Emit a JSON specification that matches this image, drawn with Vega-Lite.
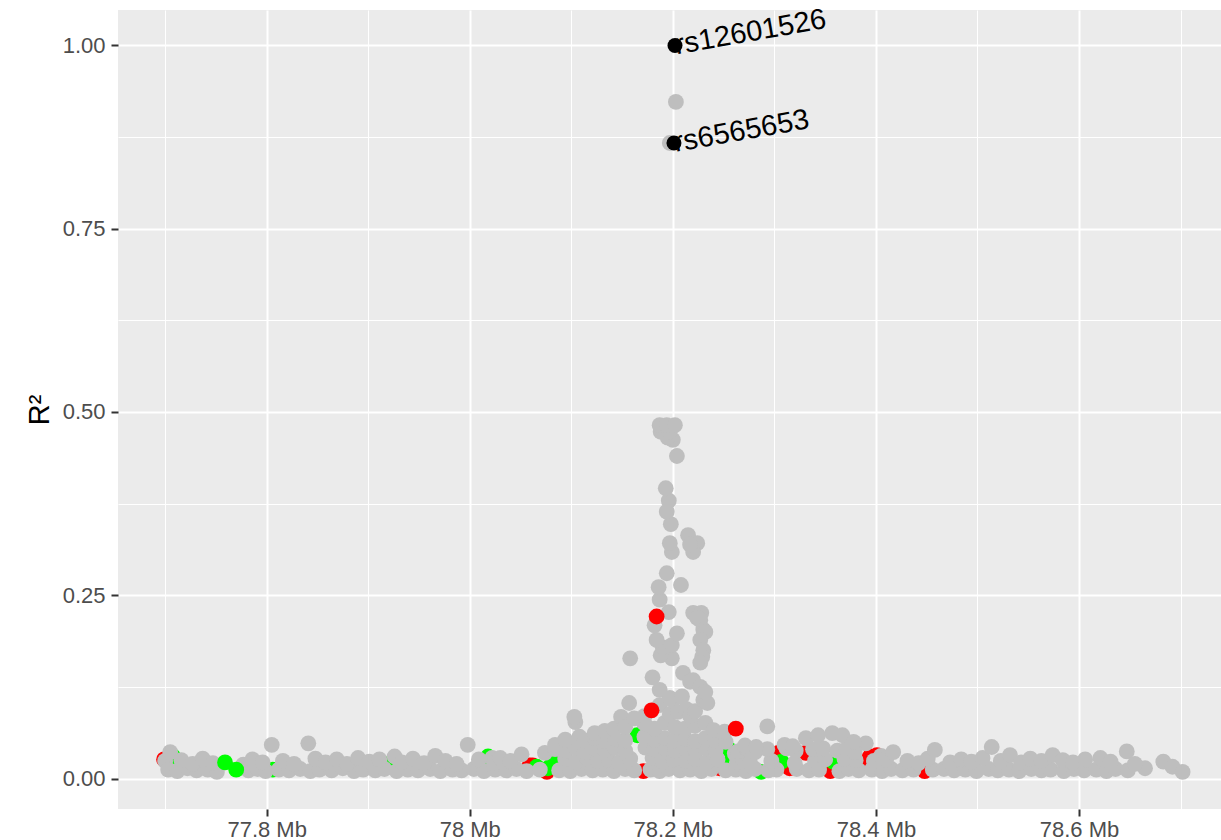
{
  "$schema": "https://vega.github.io/schema/vega-lite/v6.json",
  "width": 1103,
  "height": 799,
  "autosize": {"type": "none"},
  "padding": {"left": 118, "top": 10, "right": 0, "bottom": 31},
  "background": "white",
  "config": {
    "view": {"fill": "#EBEBEB", "stroke": null},
    "font": "Liberation Sans"
  },
  "data": {
    "values": [
      {"pos": 77.699, "r2": 0.026, "cat": "A"},
      {"pos": 78.059, "r2": 0.018, "cat": "A"},
      {"pos": 78.062, "r2": 0.018, "cat": "A"},
      {"pos": 78.076, "r2": 0.009, "cat": "A"},
      {"pos": 78.086, "r2": 0.025, "cat": "A"},
      {"pos": 78.171, "r2": 0.010, "cat": "A"},
      {"pos": 78.246, "r2": 0.014, "cat": "A"},
      {"pos": 78.304, "r2": 0.035, "cat": "A"},
      {"pos": 78.309, "r2": 0.018, "cat": "A"},
      {"pos": 78.315, "r2": 0.014, "cat": "A"},
      {"pos": 78.331, "r2": 0.035, "cat": "A"},
      {"pos": 78.355, "r2": 0.010, "cat": "A"},
      {"pos": 78.389, "r2": 0.021, "cat": "A"},
      {"pos": 78.394, "r2": 0.030, "cat": "A"},
      {"pos": 78.401, "r2": 0.032, "cat": "A"},
      {"pos": 78.448, "r2": 0.010, "cat": "A"},
      {"pos": 77.708, "r2": 0.030, "cat": "B"},
      {"pos": 77.806, "r2": 0.012, "cat": "B"},
      {"pos": 77.922, "r2": 0.021, "cat": "B"},
      {"pos": 78.018, "r2": 0.030, "cat": "B"},
      {"pos": 78.066, "r2": 0.016, "cat": "B"},
      {"pos": 78.077, "r2": 0.014, "cat": "B"},
      {"pos": 78.082, "r2": 0.025, "cat": "B"},
      {"pos": 78.165, "r2": 0.059, "cat": "B"},
      {"pos": 78.256, "r2": 0.039, "cat": "B"},
      {"pos": 78.258, "r2": 0.025, "cat": "B"},
      {"pos": 78.287, "r2": 0.009, "cat": "B"},
      {"pos": 78.307, "r2": 0.023, "cat": "B"},
      {"pos": 78.358, "r2": 0.023, "cat": "B"},

      {"pos": 77.700, "r2": 0.024, "cat": "other"},
      {"pos": 77.703, "r2": 0.012, "cat": "other"},
      {"pos": 77.712, "r2": 0.010, "cat": "other"},
      {"pos": 77.722, "r2": 0.014, "cat": "other"},
      {"pos": 77.731, "r2": 0.011, "cat": "other"},
      {"pos": 77.742, "r2": 0.012, "cat": "other"},
      {"pos": 77.751, "r2": 0.009, "cat": "other"},
      {"pos": 77.782, "r2": 0.011, "cat": "other"},
      {"pos": 77.791, "r2": 0.013, "cat": "other"},
      {"pos": 77.799, "r2": 0.010, "cat": "other"},
      {"pos": 77.812, "r2": 0.012, "cat": "other"},
      {"pos": 77.822, "r2": 0.011, "cat": "other"},
      {"pos": 77.833, "r2": 0.013, "cat": "other"},
      {"pos": 77.843, "r2": 0.010, "cat": "other"},
      {"pos": 77.852, "r2": 0.012, "cat": "other"},
      {"pos": 77.864, "r2": 0.011, "cat": "other"},
      {"pos": 77.875, "r2": 0.014, "cat": "other"},
      {"pos": 77.886, "r2": 0.010, "cat": "other"},
      {"pos": 77.895, "r2": 0.012, "cat": "other"},
      {"pos": 77.907, "r2": 0.011, "cat": "other"},
      {"pos": 77.916, "r2": 0.013, "cat": "other"},
      {"pos": 77.928, "r2": 0.010, "cat": "other"},
      {"pos": 77.939, "r2": 0.012, "cat": "other"},
      {"pos": 77.949, "r2": 0.011, "cat": "other"},
      {"pos": 77.961, "r2": 0.013, "cat": "other"},
      {"pos": 77.971, "r2": 0.010, "cat": "other"},
      {"pos": 77.983, "r2": 0.012, "cat": "other"},
      {"pos": 77.992, "r2": 0.011, "cat": "other"},
      {"pos": 78.004, "r2": 0.013, "cat": "other"},
      {"pos": 78.014, "r2": 0.010, "cat": "other"},
      {"pos": 78.025, "r2": 0.012, "cat": "other"},
      {"pos": 78.036, "r2": 0.011, "cat": "other"},
      {"pos": 78.046, "r2": 0.013, "cat": "other"},
      {"pos": 78.056, "r2": 0.010, "cat": "other"},
      {"pos": 78.069, "r2": 0.012, "cat": "other"},
      {"pos": 78.088, "r2": 0.011, "cat": "other"},
      {"pos": 78.099, "r2": 0.010, "cat": "other"},
      {"pos": 78.110, "r2": 0.013, "cat": "other"},
      {"pos": 78.121, "r2": 0.011, "cat": "other"},
      {"pos": 78.131, "r2": 0.012, "cat": "other"},
      {"pos": 78.142, "r2": 0.010, "cat": "other"},
      {"pos": 78.153, "r2": 0.013, "cat": "other"},
      {"pos": 78.162, "r2": 0.011, "cat": "other"},
      {"pos": 78.178, "r2": 0.012, "cat": "other"},
      {"pos": 78.187, "r2": 0.010, "cat": "other"},
      {"pos": 78.196, "r2": 0.013, "cat": "other"},
      {"pos": 78.207, "r2": 0.011, "cat": "other"},
      {"pos": 78.217, "r2": 0.012, "cat": "other"},
      {"pos": 78.228, "r2": 0.010, "cat": "other"},
      {"pos": 78.238, "r2": 0.013, "cat": "other"},
      {"pos": 78.252, "r2": 0.011, "cat": "other"},
      {"pos": 78.262, "r2": 0.012, "cat": "other"},
      {"pos": 78.272, "r2": 0.010, "cat": "other"},
      {"pos": 78.281, "r2": 0.013, "cat": "other"},
      {"pos": 78.294, "r2": 0.011, "cat": "other"},
      {"pos": 78.302, "r2": 0.012, "cat": "other"},
      {"pos": 78.322, "r2": 0.013, "cat": "other"},
      {"pos": 78.334, "r2": 0.011, "cat": "other"},
      {"pos": 78.344, "r2": 0.012, "cat": "other"},
      {"pos": 78.364, "r2": 0.010, "cat": "other"},
      {"pos": 78.373, "r2": 0.013, "cat": "other"},
      {"pos": 78.383, "r2": 0.011, "cat": "other"},
      {"pos": 78.396, "r2": 0.012, "cat": "other"},
      {"pos": 78.406, "r2": 0.010, "cat": "other"},
      {"pos": 78.415, "r2": 0.013, "cat": "other"},
      {"pos": 78.426, "r2": 0.011, "cat": "other"},
      {"pos": 78.437, "r2": 0.012, "cat": "other"},
      {"pos": 78.456, "r2": 0.012, "cat": "other"},
      {"pos": 78.467, "r2": 0.013, "cat": "other"},
      {"pos": 78.477, "r2": 0.011, "cat": "other"},
      {"pos": 78.488, "r2": 0.012, "cat": "other"},
      {"pos": 78.499, "r2": 0.010, "cat": "other"},
      {"pos": 78.511, "r2": 0.013, "cat": "other"},
      {"pos": 78.520, "r2": 0.011, "cat": "other"},
      {"pos": 78.531, "r2": 0.012, "cat": "other"},
      {"pos": 78.541, "r2": 0.010, "cat": "other"},
      {"pos": 78.553, "r2": 0.013, "cat": "other"},
      {"pos": 78.563, "r2": 0.011, "cat": "other"},
      {"pos": 78.572, "r2": 0.012, "cat": "other"},
      {"pos": 78.585, "r2": 0.010, "cat": "other"},
      {"pos": 78.595, "r2": 0.013, "cat": "other"},
      {"pos": 78.605, "r2": 0.011, "cat": "other"},
      {"pos": 78.617, "r2": 0.012, "cat": "other"},
      {"pos": 78.627, "r2": 0.010, "cat": "other"},
      {"pos": 78.636, "r2": 0.013, "cat": "other"},
      {"pos": 78.648, "r2": 0.011, "cat": "other"},
      {"pos": 78.665, "r2": 0.014, "cat": "other"},
      {"pos": 78.683, "r2": 0.023, "cat": "other"},
      {"pos": 78.692, "r2": 0.016, "cat": "other"},
      {"pos": 78.702, "r2": 0.009, "cat": "other"},

      {"pos": 77.705, "r2": 0.036, "cat": "other"},
      {"pos": 77.716, "r2": 0.025, "cat": "other"},
      {"pos": 77.727, "r2": 0.020, "cat": "other"},
      {"pos": 77.737, "r2": 0.027, "cat": "other"},
      {"pos": 77.747, "r2": 0.021, "cat": "other"},
      {"pos": 77.777, "r2": 0.019, "cat": "other"},
      {"pos": 77.786, "r2": 0.026, "cat": "other"},
      {"pos": 77.796, "r2": 0.022, "cat": "other"},
      {"pos": 77.805, "r2": 0.046, "cat": "other"},
      {"pos": 77.816, "r2": 0.024, "cat": "other"},
      {"pos": 77.827, "r2": 0.020, "cat": "other"},
      {"pos": 77.841, "r2": 0.048, "cat": "other"},
      {"pos": 77.848, "r2": 0.027, "cat": "other"},
      {"pos": 77.858, "r2": 0.022, "cat": "other"},
      {"pos": 77.869, "r2": 0.026, "cat": "other"},
      {"pos": 77.879, "r2": 0.020, "cat": "other"},
      {"pos": 77.890, "r2": 0.028, "cat": "other"},
      {"pos": 77.901, "r2": 0.023, "cat": "other"},
      {"pos": 77.911, "r2": 0.026, "cat": "other"},
      {"pos": 77.926, "r2": 0.030, "cat": "other"},
      {"pos": 77.933, "r2": 0.022, "cat": "other"},
      {"pos": 77.944, "r2": 0.027, "cat": "other"},
      {"pos": 77.955, "r2": 0.021, "cat": "other"},
      {"pos": 77.966, "r2": 0.031, "cat": "other"},
      {"pos": 77.976, "r2": 0.024, "cat": "other"},
      {"pos": 77.987, "r2": 0.020, "cat": "other"},
      {"pos": 77.998, "r2": 0.046, "cat": "other"},
      {"pos": 78.009, "r2": 0.026, "cat": "other"},
      {"pos": 78.022, "r2": 0.028, "cat": "other"},
      {"pos": 78.024, "r2": 0.021, "cat": "other"},
      {"pos": 78.030, "r2": 0.028, "cat": "other"},
      {"pos": 78.040, "r2": 0.024, "cat": "other"},
      {"pos": 78.051, "r2": 0.033, "cat": "other"},
      {"pos": 78.094, "r2": 0.027, "cat": "other"},
      {"pos": 78.104, "r2": 0.022, "cat": "other"},
      {"pos": 78.115, "r2": 0.028, "cat": "other"},
      {"pos": 78.126, "r2": 0.024, "cat": "other"},
      {"pos": 78.137, "r2": 0.026, "cat": "other"},
      {"pos": 78.147, "r2": 0.022, "cat": "other"},
      {"pos": 78.158, "r2": 0.027, "cat": "other"},
      {"pos": 78.180, "r2": 0.028, "cat": "other"},
      {"pos": 78.190, "r2": 0.023, "cat": "other"},
      {"pos": 78.201, "r2": 0.026, "cat": "other"},
      {"pos": 78.212, "r2": 0.024, "cat": "other"},
      {"pos": 78.222, "r2": 0.027, "cat": "other"},
      {"pos": 78.233, "r2": 0.022, "cat": "other"},
      {"pos": 78.244, "r2": 0.026, "cat": "other"},
      {"pos": 78.261, "r2": 0.034, "cat": "other"},
      {"pos": 78.263, "r2": 0.022, "cat": "other"},
      {"pos": 78.268, "r2": 0.028, "cat": "other"},
      {"pos": 78.276, "r2": 0.022, "cat": "other"},
      {"pos": 78.297, "r2": 0.024, "cat": "other"},
      {"pos": 78.320, "r2": 0.021, "cat": "other"},
      {"pos": 78.340, "r2": 0.024, "cat": "other"},
      {"pos": 78.350, "r2": 0.026, "cat": "other"},
      {"pos": 78.369, "r2": 0.027, "cat": "other"},
      {"pos": 78.380, "r2": 0.025, "cat": "other"},
      {"pos": 78.390, "r2": 0.048, "cat": "other"},
      {"pos": 78.398, "r2": 0.024, "cat": "other"},
      {"pos": 78.405, "r2": 0.031, "cat": "other"},
      {"pos": 78.410, "r2": 0.026, "cat": "other"},
      {"pos": 78.417, "r2": 0.036, "cat": "other"},
      {"pos": 78.431, "r2": 0.024, "cat": "other"},
      {"pos": 78.442, "r2": 0.021, "cat": "other"},
      {"pos": 78.451, "r2": 0.027, "cat": "other"},
      {"pos": 78.458, "r2": 0.039, "cat": "other"},
      {"pos": 78.473, "r2": 0.022, "cat": "other"},
      {"pos": 78.484, "r2": 0.026, "cat": "other"},
      {"pos": 78.494, "r2": 0.023, "cat": "other"},
      {"pos": 78.505, "r2": 0.028, "cat": "other"},
      {"pos": 78.514, "r2": 0.043, "cat": "other"},
      {"pos": 78.523, "r2": 0.024, "cat": "other"},
      {"pos": 78.532, "r2": 0.032, "cat": "other"},
      {"pos": 78.543, "r2": 0.022, "cat": "other"},
      {"pos": 78.552, "r2": 0.027, "cat": "other"},
      {"pos": 78.563, "r2": 0.024, "cat": "other"},
      {"pos": 78.574, "r2": 0.032, "cat": "other"},
      {"pos": 78.584, "r2": 0.025, "cat": "other"},
      {"pos": 78.594, "r2": 0.022, "cat": "other"},
      {"pos": 78.606, "r2": 0.026, "cat": "other"},
      {"pos": 78.621, "r2": 0.028, "cat": "other"},
      {"pos": 78.631, "r2": 0.023, "cat": "other"},
      {"pos": 78.647, "r2": 0.037, "cat": "other"},
      {"pos": 78.655, "r2": 0.020, "cat": "other"},

      {"pos": 78.074, "r2": 0.035, "cat": "other"},
      {"pos": 78.084, "r2": 0.040, "cat": "other"},
      {"pos": 78.094, "r2": 0.038, "cat": "other"},
      {"pos": 78.104, "r2": 0.042, "cat": "other"},
      {"pos": 78.113, "r2": 0.037, "cat": "other"},
      {"pos": 78.123, "r2": 0.041, "cat": "other"},
      {"pos": 78.133, "r2": 0.039, "cat": "other"},
      {"pos": 78.143, "r2": 0.042, "cat": "other"},
      {"pos": 78.153, "r2": 0.038, "cat": "other"},
      {"pos": 78.173, "r2": 0.042, "cat": "other"},
      {"pos": 78.182, "r2": 0.039, "cat": "other"},
      {"pos": 78.192, "r2": 0.041, "cat": "other"},
      {"pos": 78.202, "r2": 0.038, "cat": "other"},
      {"pos": 78.212, "r2": 0.042, "cat": "other"},
      {"pos": 78.222, "r2": 0.039, "cat": "other"},
      {"pos": 78.232, "r2": 0.041, "cat": "other"},
      {"pos": 78.242, "r2": 0.038, "cat": "other"},
      {"pos": 78.264, "r2": 0.037, "cat": "other"},
      {"pos": 78.273, "r2": 0.040, "cat": "other"},
      {"pos": 78.281, "r2": 0.036, "cat": "other"},
      {"pos": 78.293, "r2": 0.040, "cat": "other"},
      {"pos": 78.312, "r2": 0.041, "cat": "other"},
      {"pos": 78.321, "r2": 0.038, "cat": "other"},
      {"pos": 78.338, "r2": 0.040, "cat": "other"},
      {"pos": 78.348, "r2": 0.041, "cat": "other"},
      {"pos": 78.362, "r2": 0.038, "cat": "other"},
      {"pos": 78.371, "r2": 0.040, "cat": "other"},
      {"pos": 78.379, "r2": 0.036, "cat": "other"},

      {"pos": 78.084, "r2": 0.046, "cat": "other"},
      {"pos": 78.094, "r2": 0.053, "cat": "other"},
      {"pos": 78.108, "r2": 0.057, "cat": "other"},
      {"pos": 78.113, "r2": 0.052, "cat": "other"},
      {"pos": 78.123, "r2": 0.055, "cat": "other"},
      {"pos": 78.133, "r2": 0.051, "cat": "other"},
      {"pos": 78.143, "r2": 0.054, "cat": "other"},
      {"pos": 78.153, "r2": 0.052, "cat": "other"},
      {"pos": 78.172, "r2": 0.057, "cat": "other"},
      {"pos": 78.182, "r2": 0.053, "cat": "other"},
      {"pos": 78.192, "r2": 0.055, "cat": "other"},
      {"pos": 78.202, "r2": 0.052, "cat": "other"},
      {"pos": 78.212, "r2": 0.054, "cat": "other"},
      {"pos": 78.222, "r2": 0.051, "cat": "other"},
      {"pos": 78.232, "r2": 0.055, "cat": "other"},
      {"pos": 78.242, "r2": 0.052, "cat": "other"},
      {"pos": 78.252, "r2": 0.050, "cat": "other"},
      {"pos": 78.271, "r2": 0.045, "cat": "other"},
      {"pos": 78.282, "r2": 0.043, "cat": "other"},
      {"pos": 78.310, "r2": 0.046, "cat": "other"},
      {"pos": 78.318, "r2": 0.044, "cat": "other"},
      {"pos": 78.331, "r2": 0.055, "cat": "other"},
      {"pos": 78.343, "r2": 0.059, "cat": "other"},
      {"pos": 78.357, "r2": 0.062, "cat": "other"},
      {"pos": 78.367, "r2": 0.059, "cat": "other"},
      {"pos": 78.378, "r2": 0.050, "cat": "other"},

      {"pos": 78.104, "r2": 0.077, "cat": "other"},
      {"pos": 78.103, "r2": 0.084, "cat": "other"},
      {"pos": 78.123, "r2": 0.062, "cat": "other"},
      {"pos": 78.133, "r2": 0.065, "cat": "other"},
      {"pos": 78.142, "r2": 0.068, "cat": "other"},
      {"pos": 78.149, "r2": 0.084, "cat": "other"},
      {"pos": 78.153, "r2": 0.070, "cat": "other"},
      {"pos": 78.157, "r2": 0.103, "cat": "other"},
      {"pos": 78.172, "r2": 0.075, "cat": "other"},
      {"pos": 78.182, "r2": 0.068, "cat": "other"},
      {"pos": 78.192, "r2": 0.076, "cat": "other"},
      {"pos": 78.202, "r2": 0.070, "cat": "other"},
      {"pos": 78.212, "r2": 0.068, "cat": "other"},
      {"pos": 78.222, "r2": 0.072, "cat": "other"},
      {"pos": 78.232, "r2": 0.076, "cat": "other"},
      {"pos": 78.240, "r2": 0.066, "cat": "other"},
      {"pos": 78.251, "r2": 0.064, "cat": "other"},
      {"pos": 78.293, "r2": 0.071, "cat": "other"},

      {"pos": 78.162, "r2": 0.082, "cat": "other"},
      {"pos": 78.172, "r2": 0.085, "cat": "other"},
      {"pos": 78.187, "r2": 0.100, "cat": "other"},
      {"pos": 78.197, "r2": 0.088, "cat": "other"},
      {"pos": 78.200, "r2": 0.107, "cat": "other"},
      {"pos": 78.205, "r2": 0.091, "cat": "other"},
      {"pos": 78.213, "r2": 0.095, "cat": "other"},
      {"pos": 78.217, "r2": 0.085, "cat": "other"},
      {"pos": 78.222, "r2": 0.092, "cat": "other"},
      {"pos": 78.230, "r2": 0.107, "cat": "other"},
      {"pos": 78.234, "r2": 0.103, "cat": "other"},

      {"pos": 78.158, "r2": 0.164, "cat": "other"},
      {"pos": 78.180, "r2": 0.138, "cat": "other"},
      {"pos": 78.187, "r2": 0.121, "cat": "other"},
      {"pos": 78.197, "r2": 0.110, "cat": "other"},
      {"pos": 78.209, "r2": 0.112, "cat": "other"},
      {"pos": 78.210, "r2": 0.144, "cat": "other"},
      {"pos": 78.217, "r2": 0.132, "cat": "other"},
      {"pos": 78.220, "r2": 0.134, "cat": "other"},
      {"pos": 78.227, "r2": 0.125, "cat": "other"},
      {"pos": 78.232, "r2": 0.118, "cat": "other"},
      {"pos": 78.199, "r2": 0.164, "cat": "other"},
      {"pos": 78.188, "r2": 0.168, "cat": "other"},
      {"pos": 78.190, "r2": 0.179, "cat": "other"},
      {"pos": 78.184, "r2": 0.189, "cat": "other"},
      {"pos": 78.199, "r2": 0.182, "cat": "other"},
      {"pos": 78.204, "r2": 0.198, "cat": "other"},
      {"pos": 78.182, "r2": 0.209, "cat": "other"},
      {"pos": 78.196, "r2": 0.227, "cat": "other"},
      {"pos": 78.187, "r2": 0.244, "cat": "other"},
      {"pos": 78.186, "r2": 0.261, "cat": "other"},
      {"pos": 78.208, "r2": 0.264, "cat": "other"},
      {"pos": 78.194, "r2": 0.280, "cat": "other"},
      {"pos": 78.199, "r2": 0.309, "cat": "other"},
      {"pos": 78.197, "r2": 0.321, "cat": "other"},
      {"pos": 78.215, "r2": 0.332, "cat": "other"},
      {"pos": 78.224, "r2": 0.321, "cat": "other"},
      {"pos": 78.220, "r2": 0.309, "cat": "other"},
      {"pos": 78.217, "r2": 0.319, "cat": "other"},
      {"pos": 78.198, "r2": 0.347, "cat": "other"},
      {"pos": 78.194, "r2": 0.364, "cat": "other"},
      {"pos": 78.196, "r2": 0.379, "cat": "other"},
      {"pos": 78.193, "r2": 0.396, "cat": "other"},
      {"pos": 78.204, "r2": 0.440, "cat": "other"},
      {"pos": 78.200, "r2": 0.462, "cat": "other"},
      {"pos": 78.195, "r2": 0.465, "cat": "other"},
      {"pos": 78.188, "r2": 0.473, "cat": "other"},
      {"pos": 78.197, "r2": 0.473, "cat": "other"},
      {"pos": 78.187, "r2": 0.482, "cat": "other"},
      {"pos": 78.194, "r2": 0.482, "cat": "other"},
      {"pos": 78.202, "r2": 0.482, "cat": "other"},
      {"pos": 78.220, "r2": 0.226, "cat": "other"},
      {"pos": 78.228, "r2": 0.226, "cat": "other"},
      {"pos": 78.224, "r2": 0.219, "cat": "other"},
      {"pos": 78.227, "r2": 0.216, "cat": "other"},
      {"pos": 78.230, "r2": 0.203, "cat": "other"},
      {"pos": 78.232, "r2": 0.200, "cat": "other"},
      {"pos": 78.227, "r2": 0.189, "cat": "other"},
      {"pos": 78.230, "r2": 0.175, "cat": "other"},
      {"pos": 78.229, "r2": 0.166, "cat": "other"},
      {"pos": 78.227, "r2": 0.158, "cat": "other"},
      {"pos": 78.203, "r2": 0.923, "cat": "other"},
      {"pos": 78.197, "r2": 0.867, "cat": "other"},

      {"pos": 77.759, "r2": 0.022, "cat": "B"},
      {"pos": 77.770, "r2": 0.012, "cat": "B"},
      {"pos": 78.184, "r2": 0.221, "cat": "A"},
      {"pos": 78.179, "r2": 0.093, "cat": "A"},
      {"pos": 78.262, "r2": 0.068, "cat": "A"},

      {"pos": 78.2021, "r2": 1.0, "cat": "lead", "snp": "rs12601526"},
      {"pos": 78.2011, "r2": 0.867, "cat": "lead", "snp": "rs6565653"}
    ]
  },
  "resolve": {"axis": {"x": "independent", "y": "independent"}},
  "layer": [
    {
      "description": "minor grid lines",
      "transform": [{"filter": "datum.cat == 'lead'"}],
      "mark": {"type": "circle", "opacity": 0},
      "encoding": {
        "x": {
          "field": "pos", "type": "quantitative",
          "scale": {"domain": [77.6536, 78.7398], "nice": false, "zero": false},
          "axis": {
            "orient": "bottom", "values": [77.7, 77.9, 78.1, 78.3, 78.5, 78.7],
            "labels": false, "ticks": false, "domain": false, "title": null,
            "grid": true, "gridColor": "white", "gridWidth": 1
          }
        },
        "y": {
          "field": "r2", "type": "quantitative",
          "scale": {"domain": [-0.0416, 1.0484], "nice": false, "zero": false},
          "axis": {
            "orient": "left", "values": [0.125, 0.375, 0.625, 0.875],
            "labels": false, "ticks": false, "domain": false, "title": null,
            "grid": true, "gridColor": "white", "gridWidth": 1
          }
        }
      }
    },
    {
      "transform": [{"filter": "datum.cat != 'lead'"}],
      "mark": {"type": "circle", "size": 250, "opacity": 1},
      "encoding": {
        "x": {
          "field": "pos", "type": "quantitative",
          "scale": {"domain": [77.6536, 78.7398], "nice": false, "zero": false},
          "axis": {
            "orient": "bottom", "values": [77.8, 78, 78.2, 78.4, 78.6],
            "labelExpr": "format(datum.value, '~g') + ' Mb'",
            "title": null, "domain": false,
            "grid": true, "gridColor": "white", "gridWidth": 2,
            "ticks": true, "tickColor": "#333333", "tickSize": 7, "tickWidth": 2,
            "labelColor": "#4D4D4D", "labelFontSize": 22, "labelPadding": 3,
            "labelFont": "Liberation Sans"
          }
        },
        "y": {
          "field": "r2", "type": "quantitative",
          "scale": {"domain": [-0.0416, 1.0484], "nice": false, "zero": false},
          "axis": {
            "orient": "left", "values": [0, 0.25, 0.5, 0.75, 1],
            "format": ".2f",
            "title": "R²", "titleFontSize": 29, "titleColor": "black",
            "titleFontWeight": "normal", "titleFont": "Liberation Sans", "titlePadding": 8,
            "domain": false,
            "grid": true, "gridColor": "white", "gridWidth": 2,
            "ticks": true, "tickColor": "#333333", "tickSize": 7, "tickWidth": 2,
            "labelColor": "#4D4D4D", "labelFontSize": 22, "labelPadding": 6,
            "labelFont": "Liberation Sans"
          }
        },
        "color": {
          "field": "cat", "type": "nominal", "legend": null,
          "scale": {"domain": ["other", "A", "B", "lead"], "range": ["#BEBEBE", "#FF0000", "#00FF00", "#000000"]}
        }
      }
    },
    {
      "transform": [{"filter": "datum.cat == 'lead'"}],
      "mark": {"type": "text", "align": "left", "baseline": "middle", "angle": -10, "fontSize": 29, "font": "Liberation Sans", "color": "black"},
      "encoding": {
        "x": {"field": "pos", "type": "quantitative", "scale": {"domain": [77.6536, 78.7398], "nice": false, "zero": false}, "axis": null},
        "y": {"field": "r2", "type": "quantitative", "scale": {"domain": [-0.0416, 1.0484], "nice": false, "zero": false}, "axis": null},
        "text": {"field": "snp", "type": "nominal"}
      }
    },
    {
      "transform": [{"filter": "datum.cat == 'lead'"}],
      "mark": {"type": "circle", "size": 225, "opacity": 1},
      "encoding": {
        "x": {"field": "pos", "type": "quantitative", "scale": {"domain": [77.6536, 78.7398], "nice": false, "zero": false}, "axis": null},
        "y": {"field": "r2", "type": "quantitative", "scale": {"domain": [-0.0416, 1.0484], "nice": false, "zero": false}, "axis": null},
        "color": {
          "field": "cat", "type": "nominal", "legend": null,
          "scale": {"domain": ["other", "A", "B", "lead"], "range": ["#BEBEBE", "#FF0000", "#00FF00", "#000000"]}
        }
      }
    }
  ]
}
